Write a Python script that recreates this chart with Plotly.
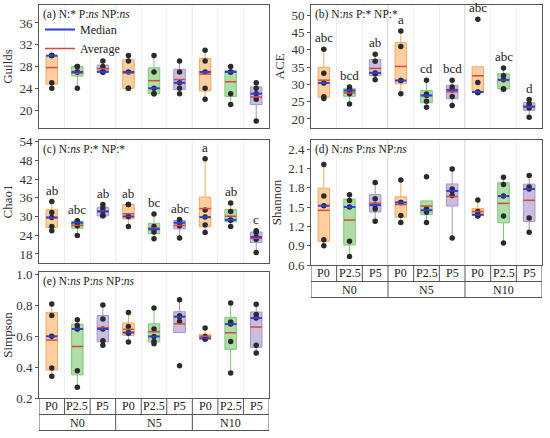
import numpy as np
import plotly.graph_objects as go

# treatment levels
n_levels = ["N0", "N5", "N10"]
p_levels = ["P0", "P2.5", "P5"]

# five replicates per treatment, order: N0P0, N0P2.5, N0P5, N5P0, ..., N10P5
guilds = [
    [24, 25, 30, 30, 30], [24, 27, 27, 28, 28], [27, 27, 27, 28, 29],
    [24, 24, 27, 29, 30], [23, 23, 24, 27, 30], [23, 24, 25, 27, 29],
    [22, 24, 27, 29, 31], [21, 23, 27, 27, 28], [18, 22, 23, 24, 25],
]
ace = [
    [25.9, 26.4, 30.4, 33.2, 40.1], [24.3, 27.3, 28.2, 28.6, 29.2], [31.3, 33.0, 33.3, 36.7, 38.7],
    [27.3, 31.1, 31.1, 40.9, 45.4], [23.4, 25.1, 26.8, 27.2, 31.2], [23.9, 26.5, 28.4, 29.2, 31.2],
    [27.6, 27.7, 27.8, 30.5, 48.8], [28.6, 28.7, 31.3, 32.5, 34.7], [20.5, 23.2, 23.6, 24.4, 25.6],
]
chao1 = [
    [25.4, 26.8, 29.7, 31.3, 34.8], [23.9, 27.0, 28.0, 28.4, 28.6], [30.2, 30.2, 31.6, 32.7, 33.8],
    [26.8, 30.0, 30.0, 33.8, 33.8], [22.9, 25.0, 25.9, 26.8, 30.8], [23.1, 27.0, 28.0, 28.6, 29.0],
    [24.9, 27.3, 29.8, 32.1, 48.5], [26.8, 28.8, 28.9, 31.6, 34.3], [18.5, 22.7, 23.4, 24.9, 25.4],
]
shannon = [
    [0.90, 0.99, 1.52, 1.67, 2.16], [0.73, 0.97, 1.50, 1.60, 1.69], [1.28, 1.47, 1.53, 1.63, 1.88],
    [1.26, 1.37, 1.57, 1.57, 1.92], [1.26, 1.42, 1.45, 1.47, 1.97], [1.02, 1.68, 1.75, 1.78, 2.09],
    [1.36, 1.37, 1.38, 1.43, 1.61], [0.94, 1.36, 1.67, 1.85, 1.96], [1.11, 1.33, 1.78, 1.81, 1.99],
]
simpson = [
    [0.340, 0.394, 0.598, 0.733, 0.806], [0.269, 0.376, 0.645, 0.667, 0.705], [0.540, 0.570, 0.645, 0.710, 0.800],
    [0.561, 0.618, 0.622, 0.662, 0.752], [0.550, 0.565, 0.597, 0.645, 0.780], [0.408, 0.694, 0.725, 0.731, 0.834],
    [0.580, 0.580, 0.585, 0.597, 0.651], [0.361, 0.565, 0.677, 0.690, 0.813], [0.490, 0.540, 0.716, 0.738, 0.805],
]

# significance letters
ace_letters = ["abc", "bcd", "ab", "a", "cd", "bcd", "abc", "abc", "d"]
chao1_letters = ["ab", "abc", "ab", "ab", "bc", "abc", "a", "ab", "c"]

W, H = 550, 438
FONT = "Liberation Serif, Times New Roman, serif"
fills = ["#FDCFA0", "#AEDDA6", "#CBBCE2"]
edges = ["#F2A766", "#80C57D", "#A693CC"]
MED_COL = "#2F3FD8"
AVG_COL = "#D8473A"
BOXW = 0.45


def px_x(a, b):
    return [a / W, b / W]


def px_y(top, bottom):
    return [1 - bottom / H, 1 - top / H]


panels = [
    dict(data=guilds, title="Guilds", label="(a) N:* P:<i>ns</i> NP:<i>ns</i>", letters=None,
         dx=px_x(39, 269), dy=px_y(5, 128), rng=[16.7, 39.3], dtick=4, fmt=None, table=False),
    dict(data=ace, title="ACE", label="(b) N:<i>ns</i> P:* NP:*", letters=ace_letters,
         dx=px_x(311, 542), dy=px_y(5, 128), rng=[17.4, 52.9], dtick=5, fmt=None, table=False),
    dict(data=chao1, title="Chao1", label="(c) N:<i>ns</i> P:* NP:*", letters=chao1_letters,
         dx=px_x(39, 269), dy=px_y(140, 263), rng=[15.1, 54.5], dtick=6, fmt=None, table=False),
    dict(data=shannon, title="Shannon", label="(d) N:<i>ns</i> P:<i>ns</i> NP:<i>ns</i>", letters=None,
         dx=px_x(311, 542), dy=px_y(140, 265), rng=[0.6, 2.54], dtick=0.3, fmt=".1f", table=True),
    dict(data=simpson, title="Simpson", label="(e) N:<i>ns</i> P:<i>ns</i> NP:<i>ns</i>", letters=None,
         dx=px_x(39, 269), dy=px_y(272, 398), rng=[0.2, 1.013], dtick=0.2, fmt=".1f", table=True),
]

fig = go.Figure()
shapes = []
annotations = []

for n, pan in enumerate(panels, start=1):
    xa = "x" if n == 1 else "x%d" % n
    ya = "y" if n == 1 else "y%d" % n
    data = pan["data"]

    # boxes, one trace per P level
    for j in range(3):
        xs, ys = [], []
        for i in range(3):
            k = i * 3 + j
            xs += [k] * len(data[k])
            ys += data[k]
        fig.add_trace(go.Box(
            x=xs, y=ys, width=BOXW, fillcolor=fills[j],
            line=dict(color=edges[j], width=1), whiskerwidth=0,
            boxpoints="all", jitter=0, pointpos=0,
            marker=dict(color="#2b2b2b", size=5.5),
            xaxis=xa, yaxis=ya, showlegend=False, hoverinfo="skip"))

    # mean and median lines
    mx, my, dx_, dy_ = [], [], [], []
    for k, vals in enumerate(data):
        mx += [k - BOXW / 2, k + BOXW / 2, None]
        my += [float(np.mean(vals))] * 2 + [None]
        dx_ += [k - BOXW / 2, k + BOXW / 2, None]
        dy_ += [float(np.median(vals))] * 2 + [None]
    fig.add_trace(go.Scatter(x=mx, y=my, mode="lines", line=dict(color=AVG_COL, width=1.5),
                             name="Average", xaxis=xa, yaxis=ya, showlegend=False, hoverinfo="skip"))
    fig.add_trace(go.Scatter(x=dx_, y=dy_, mode="lines", line=dict(color=MED_COL, width=2),
                             name="Median", xaxis=xa, yaxis=ya, showlegend=(n == 1),
                             legendrank=1, hoverinfo="skip"))
    if n == 1:
        fig.add_trace(go.Scatter(x=[None], y=[None], mode="lines", line=dict(color=AVG_COL, width=1.5),
                                 name="Average", xaxis=xa, yaxis=ya, showlegend=True, legendrank=2))

    xkey = "xaxis" if n == 1 else "xaxis%d" % n
    ykey = "yaxis" if n == 1 else "yaxis%d" % n
    fig.update_layout({
        xkey: dict(domain=pan["dx"], anchor=ya, range=[-0.5, 8.5], automargin=False,
                   tickvals=[k + 0.5 for k in range(8)], showticklabels=False, ticks="",
                   showgrid=True, gridcolor="#f1f1f1", gridwidth=1, zeroline=False,
                   showline=True, mirror=True, linecolor="#555", linewidth=1),
        ykey: dict(domain=pan["dy"], anchor=xa, range=pan["rng"], dtick=pan["dtick"],
                   tickformat=pan["fmt"], showgrid=False, zeroline=False, automargin=False,
                   ticks="outside", ticklen=3, tickcolor="#555",
                   showline=True, mirror=True, linecolor="#555", linewidth=1,
                   tickfont=dict(family=FONT, size=13, color="#333"),
                   title=dict(text=pan["title"], standoff=3,
                              font=dict(family=FONT, size=13, color="#333"))),
    })

    # N group separators
    for g in [2.5, 5.5]:
        shapes.append(dict(type="line", xref=xa, yref=ya + " domain", x0=g, x1=g, y0=0, y1=1,
                           line=dict(color="#c4c4c4", width=1), layer="below"))

    annotations.append(dict(text=pan["label"], xref=xa + " domain", yref=ya + " domain",
                            x=0.01, y=0.995, xanchor="left", yanchor="top", showarrow=False,
                            font=dict(family=FONT, size=11.5, color="#222")))

    if pan["letters"]:
        for k, let in enumerate(pan["letters"]):
            annotations.append(dict(text=let, xref=xa, yref=ya, x=k, y=max(data[k]),
                                    yanchor="bottom", yshift=2, showarrow=False,
                                    font=dict(family=FONT, size=13, color="#222")))

    if pan["table"]:
        yb = pan["dy"][0]
        r1 = yb - 16.5 / H
        r2 = yb - 32.5 / H
        line = dict(color="#555", width=1)
        for yy in [r1, r2]:
            shapes.append(dict(type="line", xref=xa, yref="paper", x0=-0.5, x1=8.5, y0=yy, y1=yy, line=line))
        for k in range(10):
            xv = k - 0.5
            bottom = r2 if k % 3 == 0 else r1
            shapes.append(dict(type="line", xref=xa, yref="paper", x0=xv, x1=xv, y0=yb, y1=bottom, line=line))
        for k in range(9):
            annotations.append(dict(text=p_levels[k % 3], xref=xa, yref="paper", x=k, y=(yb + r1) / 2,
                                    yanchor="middle", showarrow=False,
                                    font=dict(family=FONT, size=12, color="#222")))
        for i in range(3):
            annotations.append(dict(text=n_levels[i], xref=xa, yref="paper", x=i * 3 + 1, y=(r1 + r2) / 2,
                                    yanchor="middle", showarrow=False,
                                    font=dict(family=FONT, size=12, color="#222")))

fig.update_layout(
    width=W, height=H, margin=dict(l=0, r=0, t=0, b=0, autoexpand=False),
    paper_bgcolor="white", plot_bgcolor="white",
    boxmode="overlay",
    shapes=shapes, annotations=annotations,
    font=dict(family=FONT, color="#333"),
    legend=dict(x=40 / W, y=1 - 15 / H, xanchor="left", yanchor="top",
                bgcolor="rgba(0,0,0,0)", font=dict(family=FONT, size=12, color="#222"),
                itemwidth=30, tracegroupgap=0),
)

# the page body has a default 8px margin; drop it so the figure fills the window
fig.write_html("out.html", config={"displayModeBar": False},
               post_script="document.body.style.margin='0';document.body.style.overflow='hidden';")
